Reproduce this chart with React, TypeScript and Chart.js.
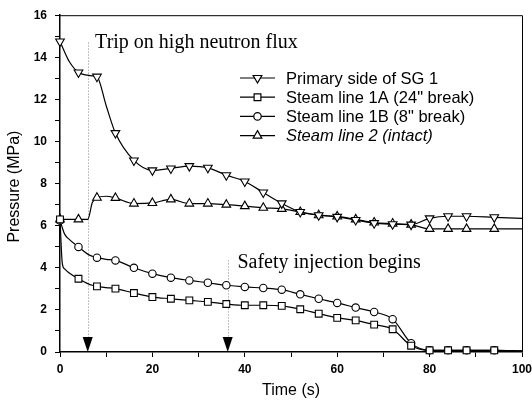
import React, { useEffect, useRef } from 'react';
import { Chart, registerables } from 'chart.js';

Chart.register(...registerables);

// ---- Data ----
const time = [0, 0.5, 1, 2, 4, 6, 7, 8, 10, 12, 16, 20, 24, 28, 32, 36, 40, 44, 48, 52, 56, 60, 64, 68, 72, 76, 80, 84, 88, 94, 100];
const primarySG1 = [14.75, 14.5, 14.25, 13.8, 13.28, 13.15, 13.12, 13.08, 11.7, 10.4, 9.1, 8.63, 8.72, 8.83, 8.75, 8.4, 8.1, 7.58, 7.06, 6.65, 6.5, 6.42, 6.27, 6.12, 6.07, 6.05, 6.35, 6.45, 6.45, 6.4, 6.35];
const steamLine1A = [6.3, 4.2, 3.95, 3.75, 3.48, 3.25, 3.17, 3.12, 3.06, 3.01, 2.8, 2.61, 2.53, 2.45, 2.38, 2.28, 2.22, 2.22, 2.19, 2.03, 1.82, 1.62, 1.5, 1.3, 1.08, 0.3, 0.08, 0.08, 0.08, 0.08, 0.05];
const steamLine1B = [6.25, 5.9, 5.6, 5.35, 4.99, 4.65, 4.55, 4.48, 4.4, 4.35, 4.0, 3.72, 3.53, 3.4, 3.29, 3.17, 3.09, 3.04, 2.96, 2.74, 2.53, 2.33, 2.11, 1.9, 1.56, 0.42, 0.08, 0.08, 0.08, 0.08, 0.05];
const steamLine2 = [6.3, 6.3, 6.3, 6.3, 6.3, 6.3, 7.1, 7.33, 7.4, 7.32, 7.05, 7.08, 7.25, 7.05, 7.05, 7.0, 6.93, 6.85, 6.8, 6.65, 6.5, 6.44, 6.3, 6.15, 6.1, 6.05, 5.85, 5.85, 5.85, 5.85, 5.85];
const markerTimes = [0, 4, 8, 12, 16, 20, 24, 28, 32, 36, 40, 44, 48, 52, 56, 60, 64, 68, 72, 76, 80, 84, 88, 94];
const seriesLabels = ['Primary side of SG 1', 'Steam line 1A (24" break)', 'Steam line 1B (8" break)', 'Steam line 2 (intact)'];
const xMin = 0, xMax = 100, xMajor = 20, xMinor = 10;
const yMin = 0, yMax = 16, yMajor = 2, yMinor = 1;
const eventTimes = [6, 36.3];
const eventLineTops = [14.7, 4.35];
const noteTexts = ['Trip on high neutron flux', 'Safety injection begins'];
const noteX = [7.6, 38.4];
const noteY = [14.45, 3.97];

const SANS = "'Liberation Sans', Arial, sans-serif";
const SERIF = "'Liberation Serif', 'Times New Roman', serif";

const styles = [
  { pointStyle: 'triangle', rotation: 180, radius: 5 },
  { pointStyle: 'rect', rotation: 0, radius: 4.8 },
  { pointStyle: 'circle', rotation: 0, radius: 3.7 },
  { pointStyle: 'triangle', rotation: 0, radius: 5 },
];
const seriesValues = [primarySG1, steamLine1A, steamLine1B, steamLine2];

function drawMarker(ctx: CanvasRenderingContext2D, style: string, rot: number, r: number, x: number, y: number) {
  ctx.beginPath();
  if (style === 'circle') {
    ctx.arc(x, y, r, 0, Math.PI * 2);
  } else if (style === 'rect') {
    const s = Math.SQRT1_2 * r;
    ctx.rect(x - s, y - s, 2 * s, 2 * s);
  } else {
    let rad = (rot * Math.PI) / 180;
    ctx.moveTo(x + Math.sin(rad) * r, y - Math.cos(rad) * r);
    rad += (2 * Math.PI) / 3;
    ctx.lineTo(x + Math.sin(rad) * r, y - Math.cos(rad) * r);
    rad += (2 * Math.PI) / 3;
    ctx.lineTo(x + Math.sin(rad) * r, y - Math.cos(rad) * r);
    ctx.closePath();
  }
  ctx.fillStyle = '#fff';
  ctx.fill();
  ctx.stroke();
}

const overlay = {
  id: 'overlay',
  beforeDatasetsDraw(chart: any) {
    const { ctx, scales } = chart;
    const x = scales.x, y = scales.y;
    ctx.save();
    ctx.strokeStyle = '#888';
    ctx.lineWidth = 1;
    ctx.setLineDash([1, 2]);
    eventTimes.forEach((t, i) => {
      const px = Math.round(x.getPixelForValue(t)) + 0.5;
      ctx.beginPath();
      ctx.moveTo(px, y.getPixelForValue(eventLineTops[i]));
      ctx.lineTo(px, y.getPixelForValue(0) - 14);
      ctx.stroke();
    });
    ctx.restore();
  },
  afterDraw(chart: any) {
    const { ctx, chartArea, scales } = chart;
    const x = scales.x, y = scales.y;
    ctx.save();
    // frame (top and right)
    ctx.strokeStyle = '#000';
    ctx.lineWidth = 1;
    ctx.beginPath();
    ctx.moveTo(chartArea.left, chartArea.top + 0.5);
    ctx.lineTo(chartArea.right + 0.5, chartArea.top + 0.5);
    ctx.lineTo(chartArea.right + 0.5, chartArea.bottom);
    ctx.stroke();

    // arrowheads
    ctx.fillStyle = '#000';
    eventTimes.forEach((t) => {
      const px = x.getPixelForValue(t);
      const py = y.getPixelForValue(0);
      ctx.beginPath();
      ctx.moveTo(px - 5, py - 15);
      ctx.lineTo(px + 5, py - 15);
      ctx.lineTo(px, py);
      ctx.closePath();
      ctx.fill();
    });

    // notes
    ctx.fillStyle = '#000';
    ctx.font = `20px ${SERIF}`;
    ctx.textAlign = 'left';
    ctx.textBaseline = 'alphabetic';
    noteTexts.forEach((txt, i) => {
      ctx.fillText(txt, x.getPixelForValue(noteX[i]), y.getPixelForValue(noteY[i]));
    });

    // axis titles
    ctx.font = `16px ${SANS}`;
    ctx.textAlign = 'center';
    ctx.textBaseline = 'middle';
    ctx.fillText('Time (s)', (chartArea.left + chartArea.right) / 2, 391);
    ctx.save();
    ctx.translate(15, (chartArea.top + chartArea.bottom) / 2 + 3);
    ctx.rotate(-Math.PI / 2);
    ctx.fillText('Pressure (MPa)', 0, 0);
    ctx.restore();

    // legend
    const lx0 = 240, lx1 = 275, tx = 286, ly0 = 78, dy = 19.2;
    chart.data.datasets.forEach((ds: any, i: number) => {
      const ly = ly0 + i * dy;
      ctx.strokeStyle = '#000';
      ctx.lineWidth = 1.2;
      ctx.beginPath();
      ctx.moveTo(lx0, ly);
      ctx.lineTo(lx1, ly);
      ctx.stroke();
      drawMarker(ctx, styles[i].pointStyle, styles[i].rotation, styles[i].radius, (lx0 + lx1) / 2, ly);
      ctx.fillStyle = '#000';
      ctx.font = `${i === 3 ? 'italic ' : ''}16.5px ${SANS}`;
      ctx.textAlign = 'left';
      ctx.textBaseline = 'middle';
      ctx.fillText(ds.label, tx, ly + 1);
    });
    ctx.restore();
  },
};

export default function App() {
  const ref = useRef<HTMLCanvasElement>(null);
  useEffect(() => {
    const datasets = seriesValues.map((vals, i) => ({
      label: seriesLabels[i],
      data: time.map((t, j) => ({ x: t, y: vals[j] })),
      borderColor: '#000',
      borderWidth: 1.2,
      backgroundColor: '#fff',
      pointStyle: styles[i].pointStyle as any,
      pointRotation: styles[i].rotation,
      pointBorderColor: '#000',
      pointBackgroundColor: '#fff',
      pointBorderWidth: 1.1,
      pointRadius: (c: any) => (markerTimes.includes(time[c.dataIndex]) ? styles[i].radius : 0),
      pointHoverRadius: 0,
      cubicInterpolationMode: 'monotone' as const,
      fill: false,
      clip: false as any,
    }));
    const chart = new Chart(ref.current!, {
      type: 'line',
      data: { datasets },
      plugins: [overlay],
      options: {
        animation: false,
        responsive: false,
        events: [],
        layout: { padding: { top: 15, right: 10, left: 0, bottom: 0 } },
        plugins: { legend: { display: false }, tooltip: { enabled: false }, title: { display: false } },
        scales: {
          x: {
            type: 'linear',
            min: xMin,
            max: xMax,
            afterFit: (s: any) => { s.height = 56; s.paddingLeft = 0; s.paddingRight = 0; },
            ticks: {
              stepSize: xMinor,
              autoSkip: false,
              maxRotation: 0,
              padding: 5,
              color: '#000',
              font: { family: SANS, size: 12, weight: 'bold' },
              callback: (v: any) => (Number(v) % xMajor === 0 ? String(v) : ''),
            },
            grid: { drawOnChartArea: false, drawTicks: true, tickLength: 5, color: '#000', tickWidth: 1 },
            border: { display: true, color: '#000', width: 1.5 },
          },
          y: {
            type: 'linear',
            min: yMin,
            max: yMax,
            afterFit: (s: any) => { s.width = 60; },
            ticks: {
              stepSize: yMinor,
              autoSkip: false,
              padding: 8,
              color: '#000',
              font: { family: SANS, size: 12, weight: 'bold' },
              callback: (v: any) => (Number(v) % yMajor === 0 ? String(v) : ''),
            },
            grid: { drawOnChartArea: false, drawTicks: true, tickLength: 5, color: '#000', tickWidth: 1 },
            border: { display: true, color: '#000', width: 1.5 },
          },
        },
      },
    });
    return () => chart.destroy();
  }, []);
  return (
    <canvas
      ref={ref}
      width={532}
      height={408}
      style={{ position: 'absolute', left: 0, top: 0, width: 532, height: 408, background: '#fff' }}
    />
  );
}
